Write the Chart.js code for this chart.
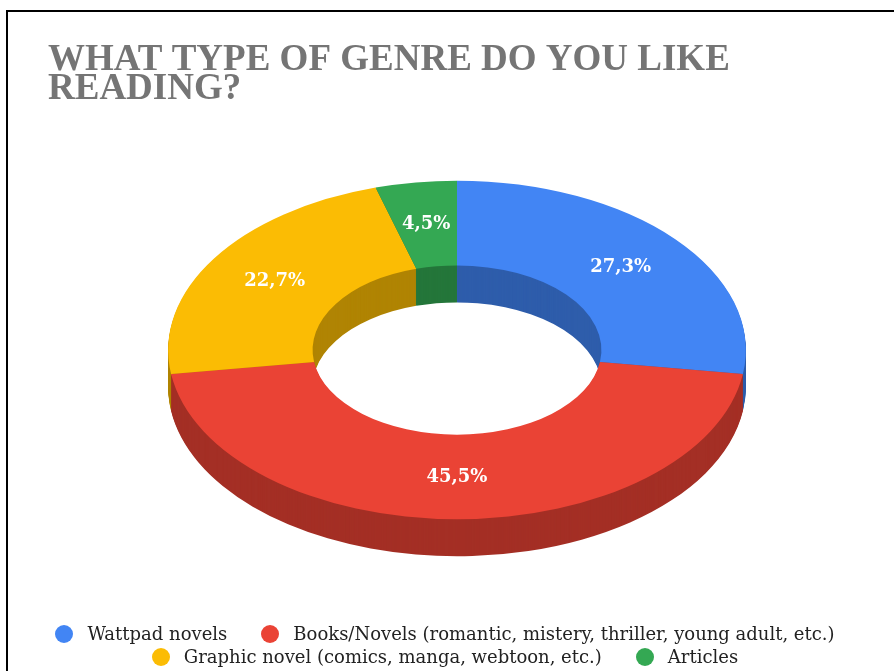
<!DOCTYPE html>
<html>
<head>
<meta charset="utf-8">
<title>Genre</title>
<script src="https://cdn.jsdelivr.net/npm/chart.js@4.4.1/dist/chart.umd.min.js"></script>
<style>
  html, body { margin: 0; padding: 0; background: #fff; }
  #wrap { position: relative; width: 894px; height: 671px; overflow: hidden; }
  #marco { position: absolute; left: 6px; top: 10px; width: 900px; height: 700px;
           border-left: 2px solid #000; border-top: 2px solid #000; }
  #grafica { position: absolute; left: 0; top: 0; }
  #leyenda { position: absolute; left: 40px; width: 810px; top: 622px;
             display: flex; flex-wrap: wrap; justify-content: center; column-gap: 34px;
             font-family: 'DejaVu Serif', serif; font-size: 18px; line-height: 23px; color: #222; }
  .item { display: flex; align-items: center; white-space: nowrap; }
  .punto { width: 18px; height: 18px; border-radius: 50%; margin-right: 14px; }
</style>
</head>
<body>
<div id="wrap">
  <div id="marco"></div>
  <canvas id="grafica" width="894" height="671"></canvas>
  <div id="leyenda"></div>
</div>
<script>
// ── DATOS ─────────────────────────────────────────────
const titulo      = ['WHAT TYPE OF GENRE DO YOU LIKE', 'READING?'];
const categorias  = [
    'Wattpad novels',
    'Books/Novels (romantic, mistery, thriller, young adult, etc.)',
    'Graphic novel (comics, manga, webtoon, etc.)',
    'Articles'
];
const respuestas  = [6, 10, 5, 1];
const colores     = ['#4285F4', '#EA4335', '#FBBC04', '#34A853'];
const coloresLado = ['#2E5DAB', '#A42F25', '#B08403', '#24763A'];

// ── EFECTO 3D: inclinación y grosor del anillo ────────
const TILT = 0.586, DEPTH = 37, STRETCH = 1.135;

function inclinar(ctx, cx, cy, dy) {
    ctx.translate(cx, cy - DEPTH / 2 + dy);
    ctx.scale(STRETCH, STRETCH * TILT);
    ctx.translate(-cx, -cy);
}

const dona3D = {
    id: 'dona3D',
    beforeDatasetsDraw(chart) {
        const ctx = chart.ctx;
        const arcos = chart.getDatasetMeta(0).data;
        const cx = arcos[0].x, cy = arcos[0].y;
        // lados: se barre el anillo hacia abajo con el color oscuro
        for (let d = DEPTH; d >= 1; d--) {
            ctx.save();
            inclinar(ctx, cx, cy, d);
            arcos.forEach((arc, i) => {
                const p = arc.getProps(['startAngle', 'endAngle', 'innerRadius', 'outerRadius']);
                ctx.beginPath();
                ctx.arc(cx, cy, p.outerRadius, p.startAngle, p.endAngle);
                ctx.arc(cx, cy, p.innerRadius, p.endAngle, p.startAngle, true);
                ctx.closePath();
                ctx.fillStyle = coloresLado[i];
                ctx.fill();
            });
            ctx.restore();
        }
        ctx.save();
        inclinar(ctx, cx, cy, 0);
    },
    afterDatasetsDraw(chart) {
        const ctx = chart.ctx;
        ctx.restore();
        const arcos = chart.getDatasetMeta(0).data;
        const total = respuestas.reduce((a, b) => a + b, 0);
        ctx.save();
        ctx.font = 'bold 18px "DejaVu Serif"';
        ctx.fillStyle = '#fff';
        ctx.textAlign = 'center';
        ctx.textBaseline = 'middle';
        arcos.forEach((arc, i) => {
            const p = arc.getProps(['x', 'y', 'startAngle', 'endAngle', 'innerRadius', 'outerRadius']);
            const a = (p.startAngle + p.endAngle) / 2;
            const r = (p.innerRadius + p.outerRadius) / 2;
            const x = p.x + STRETCH * r * Math.cos(a);
            const y = p.y - DEPTH / 2 + STRETCH * TILT * r * Math.sin(a);
            const txt = (respuestas[i] / total * 100).toFixed(1).replace('.', ',') + '%';
            ctx.fillText(txt, x, y);
        });
        ctx.restore();
    }
};

new Chart(document.getElementById('grafica'), {
    type: 'doughnut',
    data: {
        labels: categorias,
        datasets: [{
            data: respuestas,
            backgroundColor: colores,
            borderWidth: 0,
            clip: false
        }]
    },
    options: {
        responsive: false,
        animation: false,
        events: [],
        cutout: '50%',
        layout: { padding: { left: 48, right: 28, top: 0, bottom: 48 } },
        plugins: {
            legend: { display: false },
            tooltip: { enabled: false },
            title: {
                display: true,
                text: titulo,
                align: 'start',
                color: '#757575',
                font: { family: 'Liberation Serif', size: 37, weight: 'bold', lineHeight: 0.784 },
                padding: { top: 46, bottom: 10 }
            }
        }
    },
    plugins: [dona3D]
});

// ── LEYENDA ───────────────────────────────────────────
const leyenda = document.getElementById('leyenda');
categorias.forEach((cat, i) => {
    leyenda.innerHTML += `<div class="item"><span class="punto" style="background:${colores[i]}"></span>${cat}</div>`;
});
</script>
</body>
</html>
